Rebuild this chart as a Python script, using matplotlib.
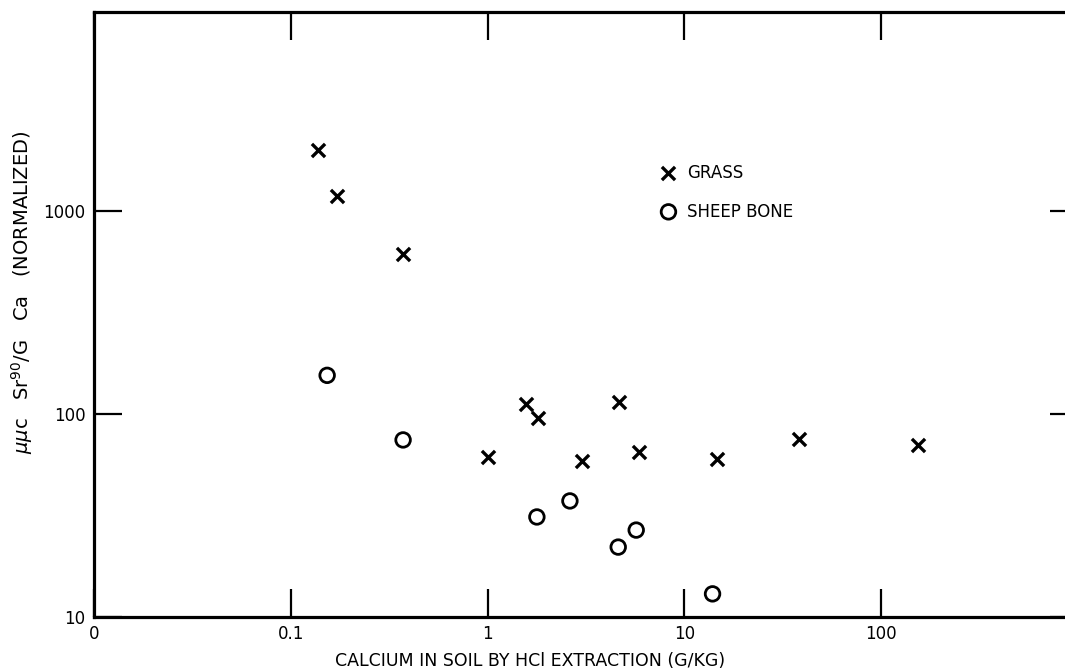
import matplotlib
matplotlib.use("Agg")
import matplotlib.pyplot as plt
from matplotlib.ticker import FixedLocator, NullLocator

# данные
grass_x = [0.137, 0.172, 0.372, 1.01, 1.56, 1.80, 3.02, 4.66, 5.89, 14.7, 38.2, 154]
grass_y = [2000, 1186, 614, 61.4, 112, 95.5, 58.7, 114, 65, 60, 75.3, 70.3]

bone_x = [0.153, 0.372, 1.78, 2.62, 4.61, 5.69, 13.9]
bone_y = [155, 74.5, 31.1, 37.3, 22.1, 26.8, 13.0]

x_ticks = [0.01, 0.1, 1, 10, 100]
x_labels = ['0', '0.1', '1', '10', '100']
y_ticks = [10, 100, 1000]
y_labels = ['10', '100', '1000']

plt.rcParams['font.family'] = ['DejaVu Sans']

fig = plt.figure(figsize=(10.65, 6.7), dpi=100)
# правая граница рамки уходит за край картинки
ax = fig.add_axes([94 / 1065, 53 / 670, 984 / 1065, 605 / 670])
ax.set_xscale('log')
ax.set_yscale('log')
ax.set_xlim(0.01, 1000)
ax.set_ylim(10, 10 ** 3.98)

ax.scatter(grass_x, grass_y, marker='x', s=90, c='black', linewidths=2.4, zorder=3)
ax.scatter(bone_x, bone_y, marker='o', s=110, facecolors='none', edgecolors='black',
           linewidths=2.0, zorder=3)

# легенда
ax.scatter([8.3], [1540], marker='x', s=90, c='black', linewidths=2.4)
ax.scatter([8.3], [990], marker='o', s=110, facecolors='none', edgecolors='black', linewidths=2.0)
ax.text(10.3, 1540, 'GRASS', fontsize=12, va='center', ha='left')
ax.text(10.3, 990, 'SHEEP BONE', fontsize=12, va='center', ha='left')

# оси и метки
for s in ax.spines.values():
    s.set_linewidth(2.3)
ax.xaxis.set_major_locator(FixedLocator(x_ticks))
ax.yaxis.set_major_locator(FixedLocator(y_ticks))
ax.xaxis.set_minor_locator(NullLocator())
ax.yaxis.set_minor_locator(NullLocator())
ax.set_xticklabels(x_labels, fontsize=12)
ax.set_yticklabels(y_labels, fontsize=12)
ax.tick_params(axis='both', which='major', direction='in', length=20, width=1.6,
               top=True, right=True, pad=6)

fig.text(530 / 1065, 1 - 661 / 670, 'CALCIUM IN SOIL BY HCl EXTRACTION (G/KG)',
         fontsize=12.5, ha='center', va='center')
fig.text(22 / 1065, 1 - 292 / 670, r'$\mu\mu$c   Sr$^{90}$/G   Ca   (NORMALIZED)',
         fontsize=14, ha='center', va='center', rotation=90)

fig.savefig('out.png', dpi=100)
